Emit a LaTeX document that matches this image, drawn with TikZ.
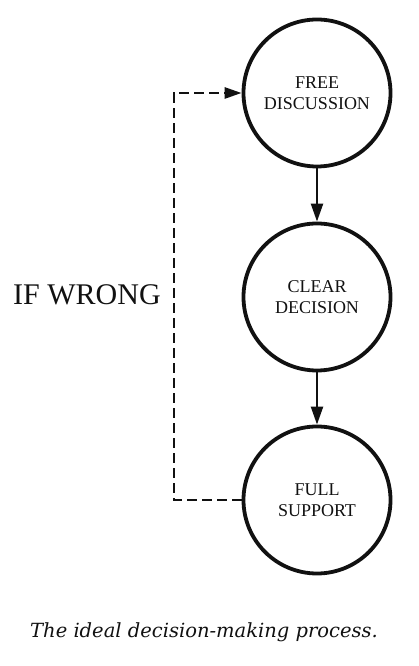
\documentclass[tikz,border=0pt]{standalone}
\usepackage{fontspec}
\setmainfont{Liberation Serif}
\newfontfamily\capfont{DejaVu Serif}
\usetikzlibrary{arrows.meta}
\definecolor{ink}{HTML}{111111}
\definecolor{paper}{HTML}{FFFFFF}
\tikzset{
  stage/.style={circle, draw=ink, line width=3.8pt, minimum size=147pt, inner sep=0pt,
    align=center, text=ink, font=\fontsize{18}{21}\selectfont},
  flow/.style={draw=ink, line width=2.3pt, -{Triangle[length=18pt,width=12pt]}},
  retry/.style={draw=ink, line width=2.7pt, dash pattern=on 10pt off 5pt,
    -{Triangle[length=17pt,width=11pt]}},
  lab/.style={text=ink, inner sep=0pt, font=\fontsize{30}{36}\selectfont},
  capline/.style={text=ink, inner sep=0pt, font=\capfont\itshape\fontsize{19.5}{22}\selectfont},
}
\begin{document}
\begin{tikzpicture}[x=1pt,y=1pt]
  \useasboundingbox[fill=paper] (0,0) rectangle (418,666);
  % the three stages
  \node[stage] (F) at (317,573) {FREE\\DISCUSSION};
  \node[stage] (D) at (317,369) {CLEAR\\DECISION};
  \node[stage] (S) at (317,166) {FULL\\SUPPORT};
  \draw[flow] (F) -- (D);
  \draw[flow] (D) -- (S);
  % way back
  \coordinate (L1) at (174,166);
  \coordinate (L2) at (174,573);
  \draw[retry] (S.west) -- (L1) -- (L2) -- (F.west);
  \node[lab, anchor=base west] (W) at (13,361) {IF WRONG};
  \node[capline, anchor=base] (C) at (204,28) {The ideal decision-making process.};
\end{tikzpicture}
\end{document}
